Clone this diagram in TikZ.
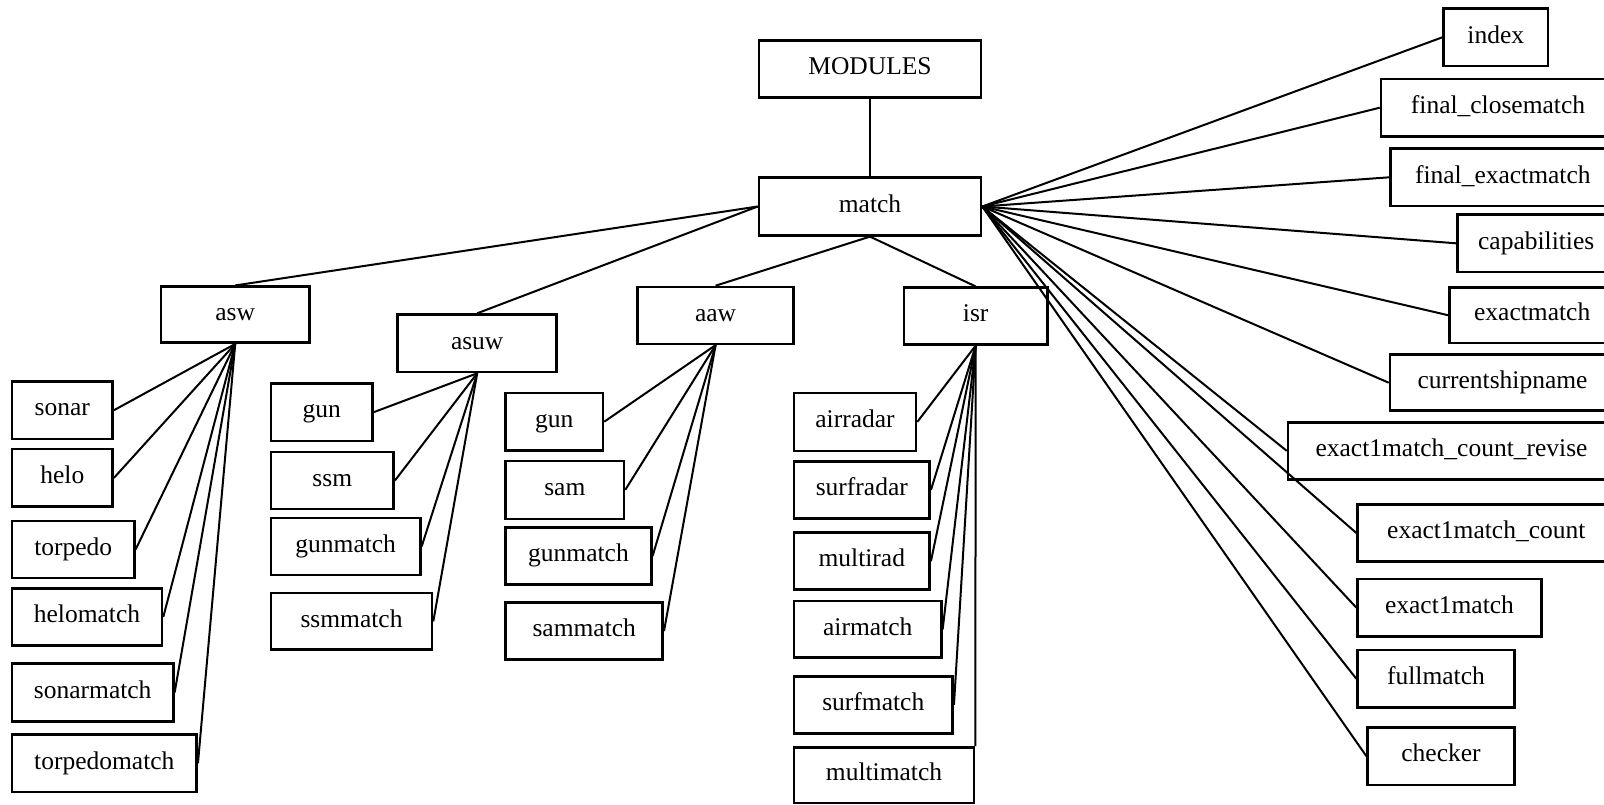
\documentclass[tikz,border=0pt]{standalone}
\usepackage{fontspec}
\setmainfont{Liberation Serif}
\tikzset{
  box/.style={draw, line width=2.6pt, inner sep=0pt, text height=17.8pt, text depth=6.4pt,
    font=\fontsize{25.5}{30}\selectfont, anchor=center},
  link/.style={line width=2pt}
}
\begin{document}
\begin{tikzpicture}[x=1pt,y=-1pt]
\useasboundingbox (0,0) rectangle (1604,804);
\clip (0,0) rectangle (1604,804);
\fill[white] (0,0) rectangle (1604,804);
% top
\node[box, minimum width=222pt, minimum height=57pt] (mod) at (870,69) {MODULES};
\node[box, minimum width=222pt, minimum height=57.6pt] (match) at (870,206.5) {match};
% second level
\node[box, minimum width=148.3pt, minimum height=55.9pt] (asw) at (235.2,314.7) {asw};
\node[box, minimum width=159pt, minimum height=57.4pt] (asuw) at (477.2,343.3) {asuw};
\node[box, minimum width=156.2pt, minimum height=56.8pt] (aaw) at (715.6,315.4) {aaw};
\node[box, minimum width=143.5pt, minimum height=56.5pt] (isr) at (975.7,316) {isr};
% asw children
\node[box, minimum width=100.7pt, minimum height=57.6pt] (sonar) at (62.3,410.2) {sonar};
\node[box, minimum width=100.7pt, minimum height=57.6pt] (helo) at (62.3,477.9) {helo};
\node[box, minimum width=122.3pt, minimum height=56.9pt] (torpedo) at (73.2,549.4) {torpedo};
\node[box, minimum width=150pt, minimum height=57.3pt] (helomatch) at (87,616.9) {helomatch};
\node[box, minimum width=161.3pt, minimum height=58pt] (sonarmatch) at (92.7,692.5) {sonarmatch};
\node[box, minimum width=184.7pt, minimum height=57.2pt] (torpedomatch) at (104.3,763.3) {torpedomatch};
% asuw children
\node[box, minimum width=101.3pt, minimum height=57.3pt] (gunA) at (321.7,412.2) {gun};
\node[box, minimum width=122.7pt, minimum height=57.2pt] (ssm) at (332.3,480.5) {ssm};
\node[box, minimum width=149.3pt, minimum height=57.3pt] (gunmatchA) at (345.7,546.5) {gunmatch};
\node[box, minimum width=161pt, minimum height=56.6pt] (ssmmatch) at (351.5,621.4) {ssmmatch};
% aaw children
\node[box, minimum width=97.3pt, minimum height=57.6pt] (gunB) at (554.3,421.7) {gun};
\node[box, minimum width=118.3pt, minimum height=57.9pt] (sam) at (564.8,489.9) {sam};
\node[box, minimum width=145.6pt, minimum height=56.9pt] (gunmatchB) at (578.5,556) {gunmatch};
\node[box, minimum width=157pt, minimum height=57.2pt] (sammatch) at (584.2,631.1) {sammatch};
% isr children
\node[box, minimum width=122pt, minimum height=57.9pt] (airradar) at (855,421.9) {airradar};
\node[box, minimum width=135.7pt, minimum height=57.3pt] (surfradar) at (861.8,489.9) {surfradar};
\node[box, minimum width=135.7pt, minimum height=56.9pt] (multirad) at (861.8,561.2) {multirad};
\node[box, minimum width=147.3pt, minimum height=56.5pt] (airmatch) at (867.7,629.4) {airmatch};
\node[box, minimum width=158.7pt, minimum height=56.9pt] (surfmatch) at (873.3,704.9) {surfmatch};
\node[box, minimum width=180pt, minimum height=55.5pt] (multimatch) at (884,775.2) {multimatch};
% right column
\node[box, minimum width=104.3pt, minimum height=57.3pt] (index) at (1495.8,37.3) {index};
\node[box, minimum width=234pt, minimum height=57.3pt] (fclose) at (1498,107.7) {final\_closematch};
\node[box, minimum width=224.3pt, minimum height=57.3pt] (fexact) at (1502.8,177.3) {final\_exactmatch};
\node[box, minimum width=157.7pt, minimum height=57.3pt] (capab) at (1536.2,243.3) {capabilities};
\node[box, minimum width=165.7pt, minimum height=55.7pt] (exactm) at (1532.2,315.2) {exactmatch};
\node[box, minimum width=225pt, minimum height=56pt] (curship) at (1502.5,382.7) {currentshipname};
\node[box, minimum width=327pt, minimum height=57pt] (ecrev) at (1451.5,450.8) {exact1match\_count\_revise};
\node[box, minimum width=257.3pt, minimum height=57.4pt] (ecount) at (1486.3,533) {exact1match\_count};
\node[box, minimum width=183.6pt, minimum height=57.3pt] (eone) at (1449.5,607.7) {exact1match};
\node[box, minimum width=156.6pt, minimum height=57.7pt] (full) at (1436,678.8) {fullmatch};
\node[box, minimum width=146.6pt, minimum height=57.7pt] (checker) at (1441,756.2) {checker};
% connectors
\draw[link] (mod.south) -- (match.north);
\draw[link] (match.west) -- (asw.north);
\draw[link] (match.west) -- (asuw.north);
\draw[link] (match.south) -- (aaw.north);
\draw[link] (match.south) -- (isr.north);
\foreach \c in {sonar,helo,torpedo,helomatch,sonarmatch,torpedomatch}
  \draw[link] (asw.south) -- (\c.east);
\foreach \c in {gunA,ssm,gunmatchA,ssmmatch}
  \draw[link] (asuw.south) -- (\c.east);
\foreach \c in {gunB,sam,gunmatchB,sammatch}
  \draw[link] (aaw.south) -- (\c.east);
\foreach \c in {airradar,surfradar,multirad,airmatch,surfmatch}
  \draw[link] (isr.south) -- (\c.east);
\draw[link] (isr.south) -- (multimatch.north east);
\foreach \c in {index,fclose,fexact,capab,exactm,curship,ecrev,ecount,eone,full,checker}
  \draw[link] (match.east) -- (\c.west);
\end{tikzpicture}
\end{document}
